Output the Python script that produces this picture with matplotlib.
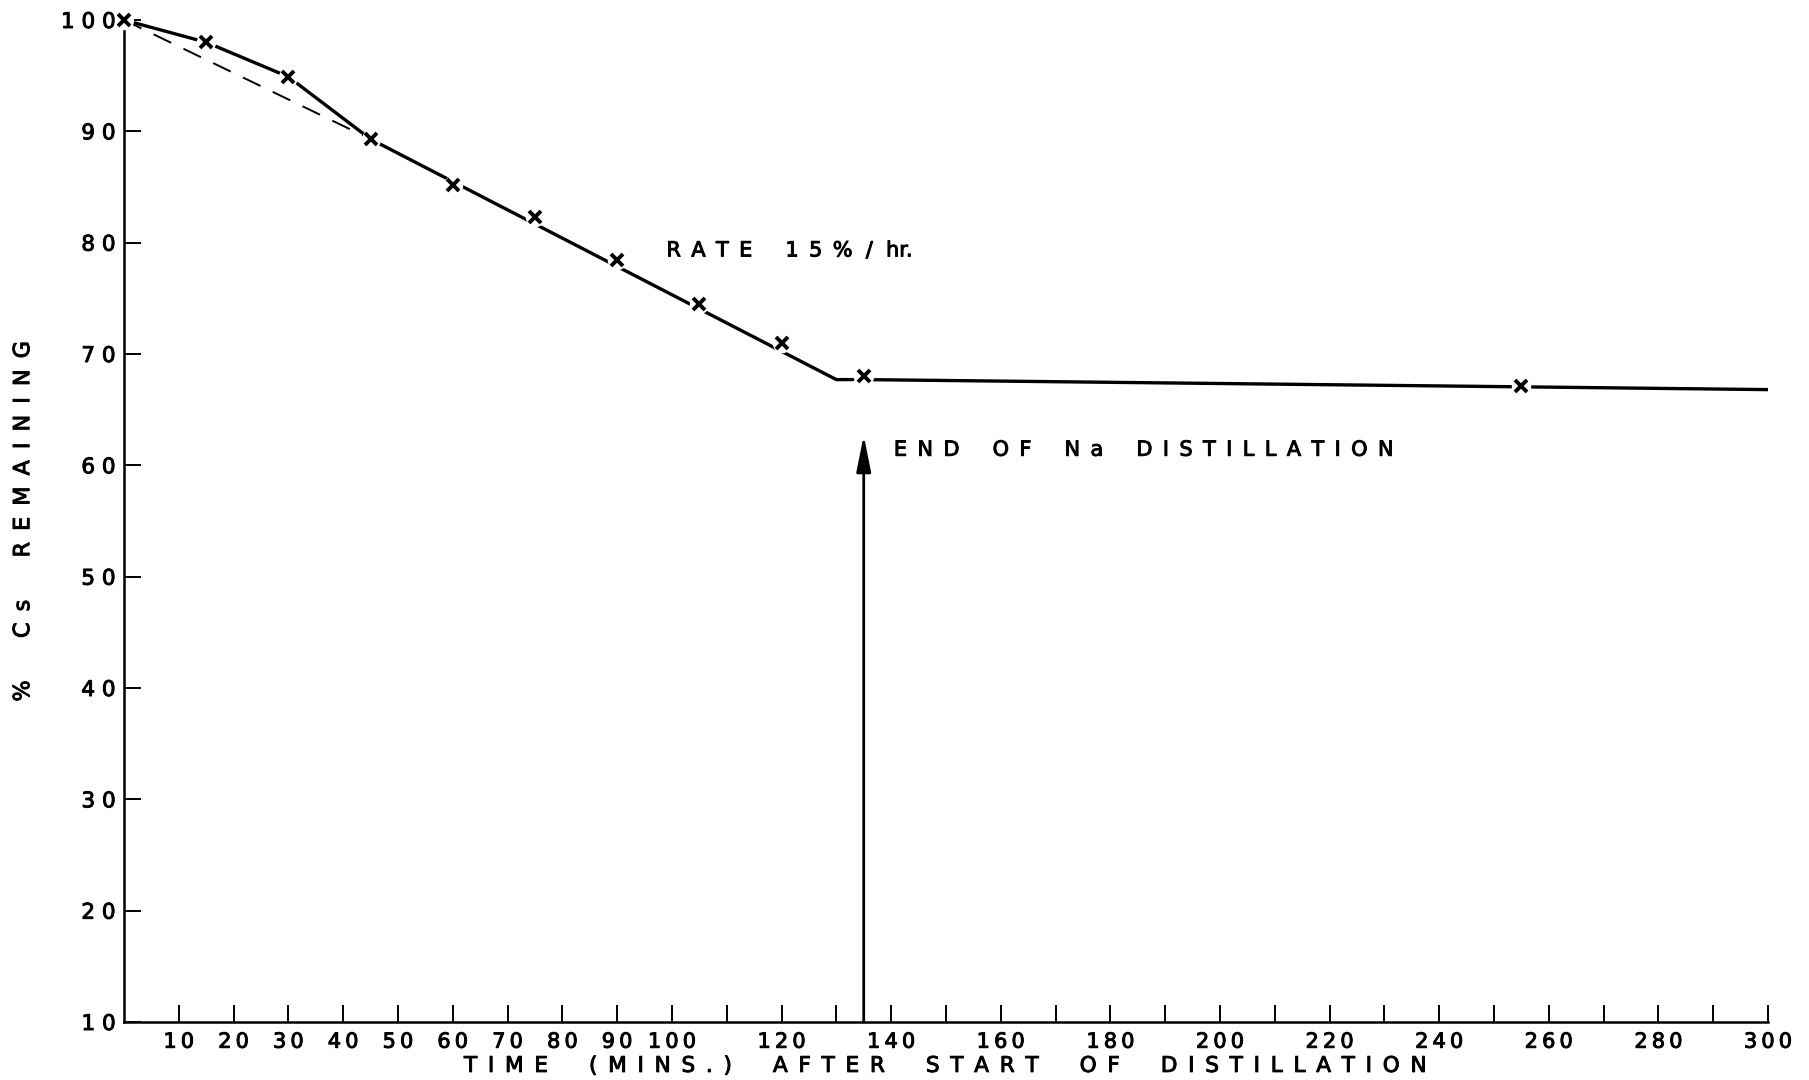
import numpy as np
import matplotlib.pyplot as plt
import matplotlib.patheffects as pe

# measured caesium left in the still (time in minutes, % remaining)
sample_time = [0, 15, 30, 45, 60, 75, 90, 105, 120, 135, 255]
cs_remaining = [100, 98.0, 94.9, 89.3, 85.2, 82.3, 78.4, 74.5, 71.0, 68.0, 67.1]

# curve drawn through the early points
early_time = [0, 15, 30, 45]
early_pct = [100, 98.0, 94.9, 89.3]

# straight-line fit, 15 %/hr, up to the end of the Na distillation
rate_time = [45, 130, 133]
rate_pct = [89.3, 67.7, 67.7]

# plateau after the sodium has gone over
plateau_time = [135, 255, 300]
plateau_pct = [67.7, 67.05, 66.8]

# back-extrapolation of the rate line
dashed_time = [0, 45]
dashed_pct = [100, 89.3]

end_of_na = 135

x_ticks = list(range(10, 301, 10))
x_labels = [str(t) if (t <= 100 or t % 20 == 0) else "" for t in x_ticks]
y_ticks = list(range(10, 101, 10))

EN = "\u2002"
THIN = "\u2009"


def spaced(s, gap=EN):
    return gap.join(s)


def lettering(words, word_gap=4):
    return (" " * word_gap).join(spaced(w) for w in words)


plt.rcParams['font.family'] = 'DejaVu Sans'
ink_fx = [pe.withStroke(linewidth=0.7, foreground='black')]

fig = plt.figure(figsize=(18.09, 10.8), dpi=100)
ax = fig.add_axes([0.0685, 0.0537, 0.9088, 0.9278])

ink = "black"
ax.plot(early_time, early_pct, color=ink, lw=2.4, solid_capstyle='round', zorder=2)
ax.plot(rate_time, rate_pct, color=ink, lw=2.4, solid_capstyle='round', zorder=2)
ax.plot(plateau_time, plateau_pct, color=ink, lw=2.4, solid_capstyle='round', zorder=2)
ax.plot(dashed_time, dashed_pct, color=ink, lw=1.4, linestyle=(0, (10, 7)), zorder=2)

# white discs leave a small gap in the line round each point
ax.plot(sample_time, cs_remaining, ls='none', marker='o', ms=14,
        mfc='white', mec='none', zorder=3, clip_on=False)
ax.plot(sample_time, cs_remaining, ls='none', marker='x', ms=9,
        mew=2.8, color=ink, zorder=4, clip_on=False)

ax.annotate("", xy=(end_of_na, 62.7), xytext=(end_of_na, 10),
            arrowprops=dict(arrowstyle='-|>,head_width=0.22,head_length=1.1',
                            lw=2.0, color=ink, mutation_scale=20,
                            shrinkA=0, shrinkB=0), zorder=2)

ax.text(140.5, 61.4, lettering(["END", "OF", "Na", "DISTILLATION"], 5),
        fontsize=15, va='center', ha='left', path_effects=ink_fx)
ax.text(99, 79.3, spaced("RATE") + "     " + spaced("15%") + "  /  hr.",
        fontsize=15, va='center', ha='left', path_effects=ink_fx)

ax.set_xlim(0, 300)
ax.set_ylim(10, 100)
ax.set_xticks(x_ticks)
ax.set_xticklabels([spaced(l, THIN) for l in x_labels], fontsize=15)
ax.set_yticks(y_ticks)
ax.set_yticklabels([spaced(str(v), " ") for v in y_ticks], fontsize=15.5)
ax.tick_params(axis='x', direction='in', length=12, width=1.4, pad=7)
ax.tick_params(axis='y', direction='in', length=12, width=1.4, pad=6)
for lab in ax.get_xticklabels() + ax.get_yticklabels():
    lab.set_path_effects(ink_fx)

for side in ('top', 'right'):
    ax.spines[side].set_visible(False)
for side in ('left', 'bottom'):
    ax.spines[side].set_linewidth(1.8)

ax.set_xlabel(lettering(["TIME", "(MINS.)", "AFTER", "START", "OF", "DISTILLATION"], 6),
              fontsize=15.5, labelpad=3, path_effects=ink_fx)
ax.set_ylabel(lettering(["%", "Cs", "REMAINING"], 6),
              fontsize=16, labelpad=20, path_effects=ink_fx)

fig.savefig("out.png", dpi=100, facecolor='white')
